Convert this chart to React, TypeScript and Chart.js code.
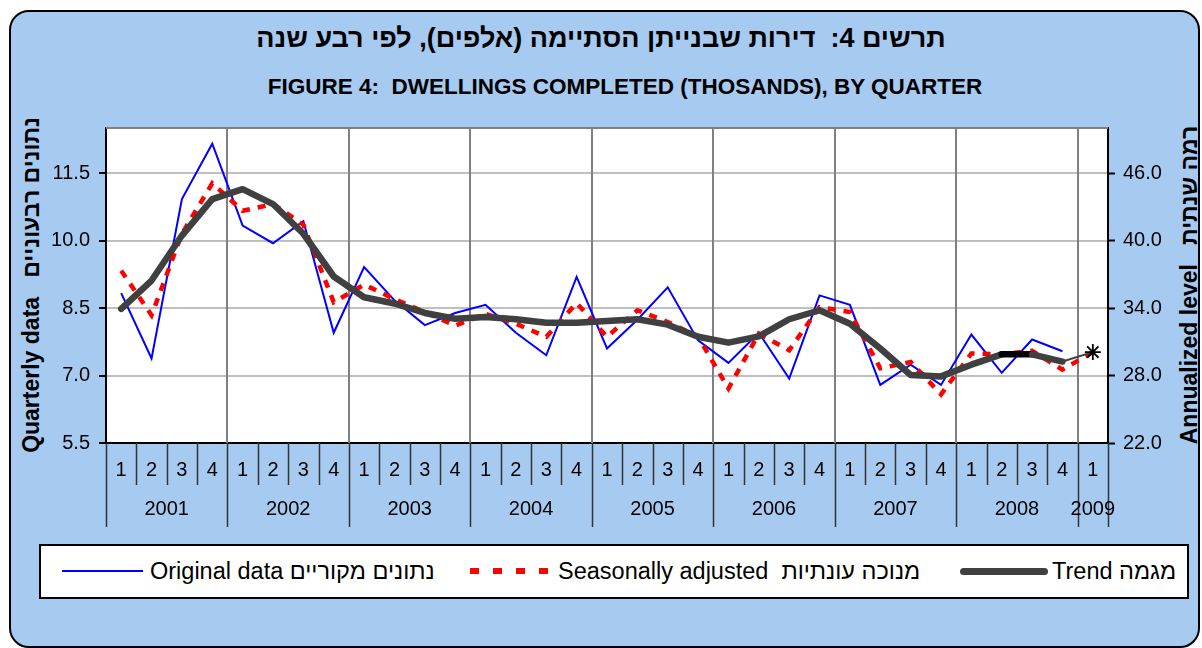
import React, { useEffect, useRef } from 'react';
import { Chart, registerables } from 'chart.js';

Chart.register(...registerables);

const FONT = "'Liberation Sans', Arial, Helvetica, sans-serif";
const BG = '#A7CAF0';

const years = ['2001', '2002', '2003', '2004', '2005', '2006', '2007', '2008', '2009'];
const quarterLabels = [
  '1', '2', '3', '4', '1', '2', '3', '4', '1', '2', '3', '4', '1', '2', '3', '4',
  '1', '2', '3', '4', '1', '2', '3', '4', '1', '2', '3', '4', '1', '2', '3', '4', '1',
];

const originalData = [
  8.83, 7.38, 10.92, 12.15, 10.33, 9.94, 10.43, 7.95, 9.41, 8.67, 8.12, 8.39,
  8.57, 7.95, 7.45, 9.19, 7.6, 8.24, 8.96, 7.78, 7.28, 7.95, 6.93, 8.78,
  8.57, 6.79, 7.24, 6.79, 7.91, 7.06, 7.8, 7.54, null,
];
const seasonalData = [
  9.33, 8.34, 10.15, 11.27, 10.66, 10.81, 10.35, 8.63, 9.02, 8.7, 8.41, 8.11,
  8.37, 8.15, 7.86, 8.61, 7.86, 8.45, 8.19, 7.86, 6.71, 7.93, 7.56, 8.52,
  8.41, 7.16, 7.3, 6.58, 7.49, 7.47, 7.55, 7.13, 7.52,
];
const trendData = [
  8.48, 9.11, 10.11, 10.92, 11.14, 10.81, 10.15, 9.2, 8.74, 8.6, 8.39, 8.26,
  8.3, 8.25, 8.17, 8.17, 8.21, 8.25, 8.13, 7.86, 7.73, 7.87, 8.25, 8.45,
  8.15, 7.6, 7.01, 6.98, 7.24, 7.47, 7.47, 7.31, 7.52,
];
const estimateData = [
  null, null, null, null, null, null, null, null, null, null, null, null,
  null, null, null, null, null, null, null, null, null, null, null, null,
  null, null, null, null, null, null, null, null, 7.52,
];

const leftTicks = [5.5, 7.0, 8.5, 10.0, 11.5];
const rightTicks = [22.0, 28.0, 34.0, 40.0, 46.0];

const decorPlugin = {
  id: 'decor',
  beforeDraw(chart: any) {
    const { ctx, chartArea: a } = chart;
    ctx.save();
    ctx.fillStyle = '#ffffff';
    ctx.fillRect(a.left, a.top, a.right - a.left, a.bottom - a.top);
    ctx.restore();
  },
  beforeDatasetsDraw(chart: any) {
    const { ctx, chartArea: a, scales } = chart;
    const x = scales.x;
    ctx.save();
    ctx.strokeStyle = '#808080';
    ctx.lineWidth = 2;
    for (let b = 4; b < quarterLabels.length; b += 4) {
      const px = Math.round(x.getPixelForValue(b - 0.5));
      ctx.beginPath();
      ctx.moveTo(px, a.top);
      ctx.lineTo(px, a.bottom);
      ctx.stroke();
    }
    ctx.beginPath();
    ctx.moveTo(a.left, a.top);
    ctx.lineTo(a.right, a.top);
    ctx.stroke();
    ctx.restore();
  },
  afterDraw(chart: any) {
    const { ctx, chartArea: a, scales } = chart;
    const x = scales.x;
    const n = quarterLabels.length;
    ctx.save();
    ctx.strokeStyle = '#333333';
    ctx.lineWidth = 1.5;
    for (let b = 0; b <= n; b++) {
      const px = Math.round(x.getPixelForValue(b - 0.5)) + 0.5;
      const long = b % 4 === 0 || b === n;
      ctx.beginPath();
      ctx.moveTo(px, a.bottom);
      ctx.lineTo(px, a.bottom + (long ? 84 : 42));
      ctx.stroke();
    }
    ctx.fillStyle = '#000';
    ctx.font = `20px ${FONT}`;
    ctx.textAlign = 'center';
    ctx.textBaseline = 'middle';
    years.forEach((yr, k) => {
      const s = 4 * k;
      const e = Math.min(4 * k + 3, n - 1);
      const cx = (x.getPixelForValue(s) + x.getPixelForValue(e)) / 2;
      ctx.fillText(yr, cx, a.bottom + 66);
    });
    ctx.restore();
  },
};

export default function App() {
  const ref = useRef<HTMLCanvasElement>(null);

  useEffect(() => {
    const chart = new Chart(ref.current as HTMLCanvasElement, {
      type: 'line',
      data: {
        labels: quarterLabels,
        datasets: [
          {
            label: 'Estimate',
            data: estimateData,
            showLine: false,
            pointStyle: 'star',
            pointRadius: 8,
            borderColor: '#000',
            backgroundColor: '#000',
            borderWidth: 1.8,
            order: 0,
            yAxisID: 'y',
          },
          {
            label: 'Trend מגמה',
            data: trendData,
            borderColor: '#404040',
            borderWidth: 6.5,
            borderCapStyle: 'round',
            borderJoinStyle: 'round',
            pointRadius: 0,
            order: 1,
            yAxisID: 'y',
            segment: {
              borderColor: (c: any) => (c.p0DataIndex === 29 ? '#000000' : undefined),
              borderWidth: (c: any) => (c.p0DataIndex === 31 ? 2 : undefined),
            },
          },
          {
            label: 'Seasonally adjusted  מנוכה עונתיות',
            data: seasonalData,
            borderColor: '#FF0000',
            borderWidth: 4.5,
            borderDash: [8, 8],
            pointRadius: 0,
            order: 2,
            yAxisID: 'y',
          },
          {
            label: 'Original data נתונים מקוריים',
            data: originalData,
            borderColor: '#0000FF',
            borderWidth: 2,
            pointRadius: 0,
            order: 3,
            yAxisID: 'y',
          },
        ],
      },
      options: {
        responsive: false,
        animation: false,
        events: [],
        layout: { padding: { top: 128, left: 0, right: 0, bottom: 0 } },
        plugins: { legend: { display: false }, title: { display: false }, tooltip: { enabled: false } },
        scales: {
          x: {
            type: 'category',
            offset: true,
            grid: { display: false, drawTicks: false },
            border: { display: true, color: '#000', width: 2 },
            ticks: {
              autoSkip: false,
              maxRotation: 0,
              minRotation: 0,
              padding: 15,
              color: '#000',
              font: { family: FONT, size: 20 },
            },
            afterFit: (s: any) => {
              s.height = 97;
            },
          },
          y: {
            type: 'linear',
            position: 'left',
            min: 5.5,
            max: 12.5,
            afterBuildTicks: (s: any) => {
              s.ticks = leftTicks.map((v) => ({ value: v }));
            },
            grid: { color: '#BFBFBF', lineWidth: 2, drawTicks: true, tickLength: 7, tickColor: '#000', tickWidth: 2 },
            border: { display: true, color: '#000', width: 2 },
            ticks: {
              padding: 9,
              color: '#000',
              font: { family: FONT, size: 20 },
              callback: (v: any) => Number(v).toFixed(1),
            },
            afterFit: (s: any) => {
              s.width = 106;
            },
          },
          y2: {
            type: 'linear',
            position: 'right',
            min: 22,
            max: 50,
            afterBuildTicks: (s: any) => {
              s.ticks = rightTicks.map((v) => ({ value: v }));
            },
            grid: { drawOnChartArea: false, drawTicks: true, tickLength: 7, tickColor: '#000', tickWidth: 2 },
            border: { display: true, color: '#000', width: 2 },
            ticks: {
              padding: 8,
              color: '#000',
              font: { family: FONT, size: 20 },
              callback: (v: any) => Number(v).toFixed(1),
            },
            afterFit: (s: any) => {
              s.width = 94;
            },
          },
        },
      },
      plugins: [decorPlugin],
    } as any);
    return () => chart.destroy();
  }, []);

  const legendText: React.CSSProperties = {
    position: 'absolute',
    top: 556,
    height: 30,
    display: 'flex',
    alignItems: 'center',
    fontSize: 23.5,
    color: '#000',
    whiteSpace: 'nowrap',
  };

  return (
    <div style={{ position: 'absolute', left: 0, top: 0, width: 1202, height: 648, overflow: 'hidden', fontFamily: FONT }}>
      <div
        style={{
          position: 'absolute',
          left: 9,
          top: 10,
          width: 1187,
          height: 634,
          background: BG,
          border: '2px solid #000',
          borderRadius: 20,
        }}
      />
      <div
        dir="rtl"
        style={{ position: 'absolute', left: 0, top: 21, width: 1202, textAlign: 'center', fontSize: 27, fontWeight: 'bold', lineHeight: '34px', color: '#000' }}
      >
        תרשים 4:&nbsp; דירות שבנייתן הסתיימה (אלפים), לפי רבע שנה
      </div>
      <div
        style={{ position: 'absolute', left: 24, top: 74, width: 1202, textAlign: 'center', fontSize: 22.5, fontWeight: 'bold', lineHeight: '26px', color: '#000' }}
      >
        FIGURE 4:&nbsp; DWELLINGS COMPLETED (THOSANDS), BY QUARTER
      </div>
      <div
        style={{
          position: 'absolute',
          left: 31,
          top: 285,
          transform: 'translate(-50%, -50%) rotate(-90deg)',
          whiteSpace: 'nowrap',
          fontSize: 23,
          fontWeight: 'bold',
          color: '#000',
        }}
      >
        Quarterly data&nbsp;&nbsp; נתונים רבעוניים
      </div>
      <div
        style={{
          position: 'absolute',
          left: 1189,
          top: 285,
          transform: 'translate(-50%, -50%) rotate(-90deg)',
          whiteSpace: 'nowrap',
          fontSize: 23,
          fontWeight: 'bold',
          color: '#000',
        }}
      >
        Annualized level&nbsp;&nbsp; רמה שנתית
      </div>
      <canvas ref={ref} width={1202} height={540} style={{ position: 'absolute', left: 0, top: 0, width: 1202, height: 540 }} />
      <div style={{ position: 'absolute', left: 39, top: 544, width: 1146, height: 51, background: '#fff', border: '2px solid #000' }} />
      <div style={{ position: 'absolute', left: 62, top: 570, width: 81, height: 2, background: '#0000FF' }} />
      <div style={{ ...legendText, left: 150 }}>Original data נתונים מקוריים</div>
      <div
        style={{
          position: 'absolute',
          left: 470,
          top: 568,
          width: 80,
          height: 6,
          background: 'repeating-linear-gradient(to right, #FF0000 0px, #FF0000 9px, transparent 9px, transparent 23px)',
        }}
      />
      <div style={{ ...legendText, left: 558 }}>Seasonally adjusted&nbsp; מנוכה עונתיות</div>
      <div style={{ position: 'absolute', left: 960, top: 568, width: 88, height: 7, borderRadius: 4, background: '#404040' }} />
      <div style={{ ...legendText, left: 1052 }}>Trend מגמה</div>
    </div>
  );
}
